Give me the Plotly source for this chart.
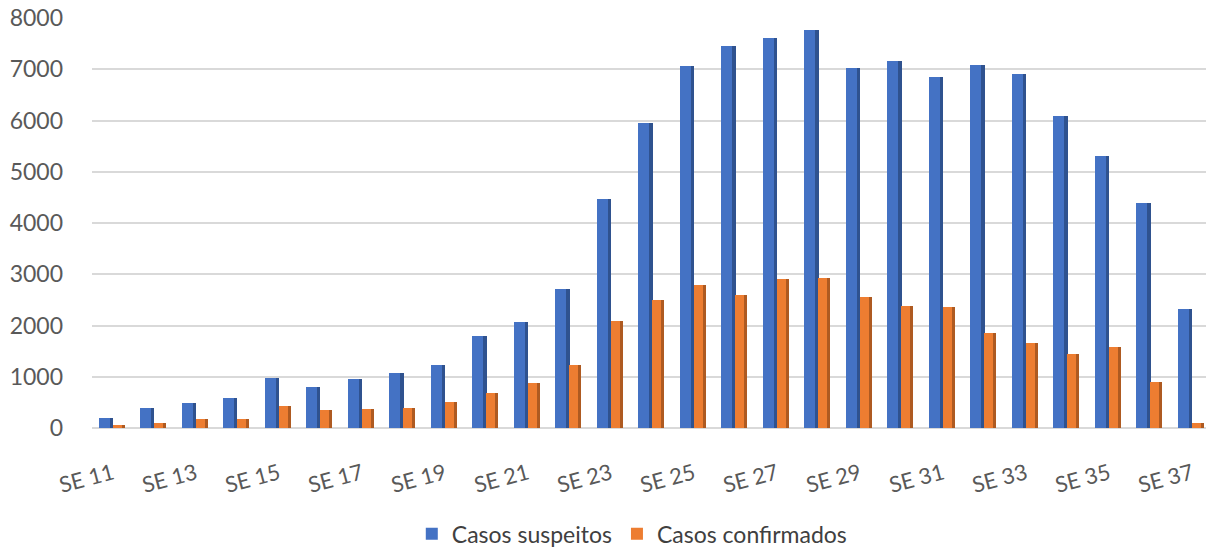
import plotly.graph_objects as go

# Semanas epidemiológicas SE 11 a SE 37
semanas = [f"SE {n}" for n in range(11, 38)]
rotulos_eixo = [f"SE {n}" for n in range(11, 38, 2)]

casos_suspeitos = [200, 400, 480, 580, 980, 800, 950, 1070, 1230, 1790, 2070, 2720,
                   4470, 5950, 7060, 7450, 7610, 7770, 7030, 7160, 6850, 7090, 6900,
                   6080, 5300, 4400, 2330]
casos_confirmados = [50, 100, 170, 170, 430, 350, 380, 400, 510, 680, 870, 1220,
                     2080, 2500, 2800, 2600, 2910, 2930, 2560, 2380, 2370, 1860, 1650,
                     1450, 1580, 900, 100]

AZUL, AZUL_LADO = "#4472C4", "#2F528F"
LARANJA, LARANJA_LADO = "#ED7D31", "#AE5A21"
FONTE = "Lato, 'Open Sans', sans-serif"

fig = go.Figure()

# face lateral (sombra) e face frontal de cada coluna
fig.add_trace(go.Bar(x=semanas, y=casos_suspeitos, offset=-0.08, width=0.085,
                     marker=dict(color=AZUL_LADO, line=dict(width=0)),
                     showlegend=False, hoverinfo="skip"))
fig.add_trace(go.Bar(x=semanas, y=casos_suspeitos, offset=-0.34, width=0.265,
                     name="Casos suspeitos",
                     marker=dict(color=AZUL, line=dict(width=0))))
fig.add_trace(go.Bar(x=semanas, y=casos_confirmados, offset=0.21, width=0.08,
                     marker=dict(color=LARANJA_LADO, line=dict(width=0)),
                     showlegend=False, hoverinfo="skip"))
fig.add_trace(go.Bar(x=semanas, y=casos_confirmados, offset=-0.005, width=0.22,
                     name="Casos confirmados",
                     marker=dict(color=LARANJA, line=dict(width=0))))

fig.update_layout(
    width=1206, height=548,
    margin=dict(l=92, r=0, t=18, b=120, autoexpand=False),
    paper_bgcolor="white", plot_bgcolor="white",
    barmode="overlay",
    font=dict(family=FONTE, color="#595959"),
    xaxis=dict(
        type="category",
        range=[-0.5, 26.34],
        tickmode="array", tickvals=rotulos_eixo, ticktext=rotulos_eixo,
        tickangle=-15, tickfont=dict(size=22, color="#595959"),
        showgrid=False, showline=False, ticks="", ticklabelstandoff=28,
    ),
    yaxis=dict(
        range=[0, 8000], dtick=1000,
        tickfont=dict(size=23, color="#595959"),
        showgrid=True, gridcolor="#D9D9D9", gridwidth=2,
        zeroline=True, zerolinecolor="#D9D9D9", zerolinewidth=2,
        showline=False, ticks="", ticklabelstandoff=28,
    ),
    legend=dict(
        orientation="h", x=0.485, xanchor="center", y=-0.258, yanchor="middle",
        font=dict(size=23, color="#404040"), traceorder="normal",
        itemwidth=30, bgcolor="rgba(0,0,0,0)",
    ),
    bargap=0,
)

fig.write_html("out.html")
